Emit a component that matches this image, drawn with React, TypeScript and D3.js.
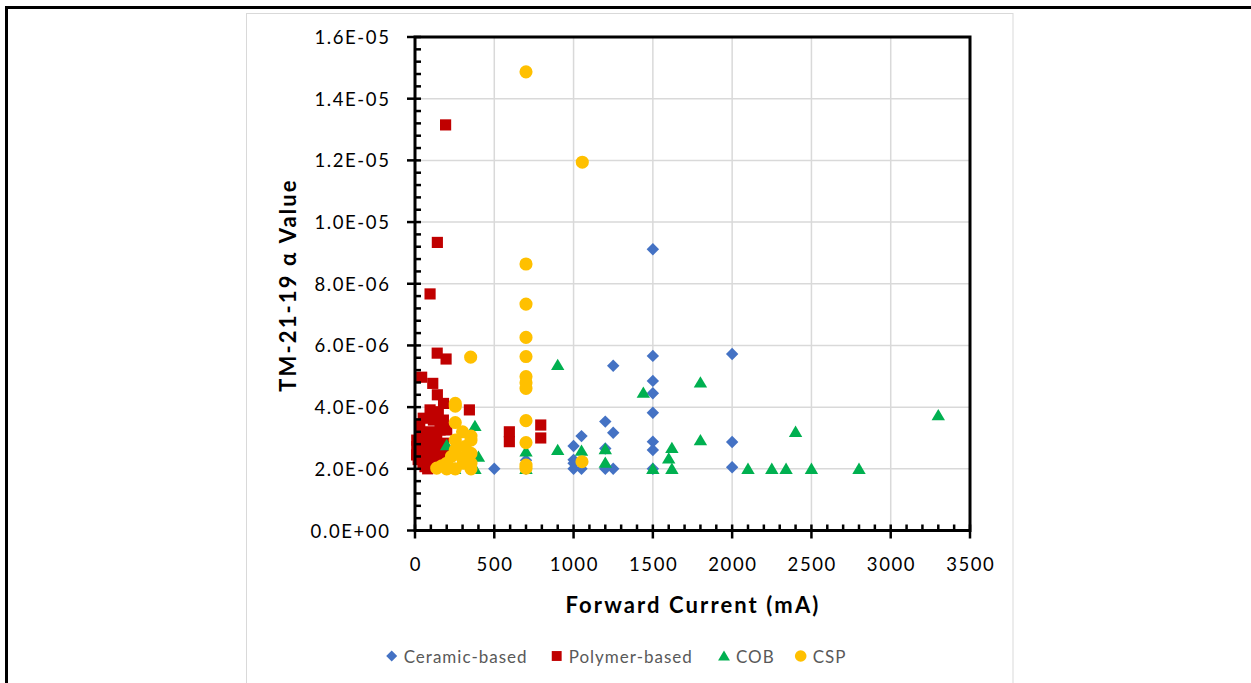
import React from "react";
import * as d3 from "d3";

const xTicks = [0, 500, 1000, 1500, 2000, 2500, 3000, 3500];
const yTicks = [0, 2e-6, 4e-6, 6e-6, 8e-6, 1e-5, 1.2e-5, 1.4e-5, 1.6e-5];
const yTickLabels = ["0.0E+00", "2.0E-06", "4.0E-06", "6.0E-06", "8.0E-06", "1.0E-05", "1.2E-05", "1.4E-05", "1.6E-05"];

const seriesNames = ["Ceramic-based", "Polymer-based", "COB", "CSP"];
const seriesColors = ["#4472C4", "#C00000", "#00B050", "#FFC000"];

const ceramicX = [1500, 1500, 2000, 1250, 1500, 1500, 1500, 1200, 1250, 1050, 1000, 1200, 1500, 1500, 2000, 2000, 1000, 1000, 1050, 1200, 1250, 1500, 500, 700, 700, 1000];
const ceramicY = [9.12, 5.66, 5.72, 5.34, 4.85, 4.45, 3.82, 3.53, 3.17, 3.06, 2.74, 2.66, 2.88, 2.61, 2.87, 2.05, 2.29, 2.0, 2.0, 2.0, 2.0, 2.0, 2.0, 2.28, 2.0, 2.18];

const polymerX = [193, 141, 95, 140, 196, 42, 112, 141, 180, 95, 343, 147, 52, 116, 179, 32, 95, 158, 11, 63, 137, 179, 32, 84, 63, 105, 595, 595, 793, 793, 11, 42, 95, 126, 189, 76, 200, 20, 50, 150, 120, 80, 30, 70, 160, 110, 10, 180];
const polymerY = [13.15, 9.34, 7.67, 5.75, 5.56, 4.97, 4.77, 4.4, 4.12, 3.91, 3.91, 3.85, 3.64, 3.58, 3.58, 3.15, 3.2, 3.26, 2.72, 2.83, 2.93, 2.83, 2.5, 2.45, 2.07, 2.07, 3.2, 2.88, 3.42, 3.0, 2.93, 2.61, 2.61, 2.34, 2.29, 2.93, 3.26, 2.3, 2.2, 2.5, 2.7, 2.0, 3.45, 2.25, 2.1, 3.0, 2.45, 2.6];

const cobX = [900, 1800, 1440, 2400, 1800, 900, 1050, 1200, 1200, 1620, 1600, 1500, 1620, 2100, 2250, 2340, 2500, 2800, 3300, 378, 200, 378, 378, 700, 700, 250, 400];
const cobY = [5.37, 4.8, 4.47, 3.2, 2.93, 2.61, 2.59, 2.64, 2.2, 2.68, 2.34, 2.0, 2.0, 2.0, 2.0, 2.0, 2.0, 2.0, 3.74, 3.39, 2.77, 2.45, 2.0, 2.56, 2.0, 2.0, 2.39];

const cspX = [700, 1055, 700, 700, 700, 700, 700, 700, 700, 700, 700, 700, 700, 351, 254, 254, 254, 300, 353, 353, 254, 254, 315, 353, 353, 353, 137, 200, 200, 254, 305, 1053, 300, 230, 170];
const cspY = [14.87, 11.94, 8.64, 7.34, 6.26, 5.64, 4.99, 4.79, 4.61, 3.56, 2.85, 2.12, 2.02, 5.62, 4.12, 4.03, 3.5, 3.2, 3.06, 2.93, 2.93, 2.61, 2.72, 2.5, 2.18, 2.0, 2.02, 2.18, 2.0, 2.0, 2.18, 2.23, 2.35, 2.4, 2.1];

const seriesXs = [ceramicX, polymerX, cobX, cspX];
const seriesYs = [ceramicY, polymerY, cobY, cspY];

const FONT = "Lato, 'Open Sans', sans-serif";

function markerPath(kind: number, s: number): string {
  if (kind === 0) return `M0,${-s}L${s},0L0,${s}L${-s},0Z`;
  if (kind === 1) return `M${-s * 0.9},${-s * 0.9}H${s * 0.9}V${s * 0.9}H${-s * 0.9}Z`;
  if (kind === 2) return `M0,${-s}L${s * 1.08},${s * 0.82}L${-s * 1.08},${s * 0.82}Z`;
  return d3.symbol().type(d3.symbolCircle).size(Math.PI * (s * 1.06) * (s * 1.06))() as string;
}

export default function App() {
  const left = 415, right = 970, top = 37, bottom = 530.5;
  const x = d3.scaleLinear().domain([0, 3500]).range([left, right]);
  const y = d3.scaleLinear().domain([0, 1.6e-5]).range([bottom, top]);
  const xMinor = d3.range(0, 3501, 100).filter((v) => v % 500 !== 0);
  const yMinor = d3.range(0, 81, 2).map((v) => v * 2e-7).filter((_, i) => i % 5 !== 0);
  const legendX = [391.7, 556.7, 724, 800.7];
  const legendY = 656;

  return (
    <svg width={1251} height={683} style={{ position: "absolute", left: 0, top: 0, background: "#fff" }}>
      <rect x={0} y={0} width={1251} height={683} fill="#fff" />
      <line x1={6} y1={7.5} x2={1251} y2={7.5} stroke="#000" strokeWidth={3} />
      <line x1={6.5} y1={6} x2={6.5} y2={683} stroke="#000" strokeWidth={3} />
      <rect x={246.5} y={13.5} width={766.5} height={700} fill="#fff" stroke="#d9d9d9" strokeWidth={1} />

      {xTicks.map((t) => (
        <line key={"gx" + t} x1={x(t)} x2={x(t)} y1={top} y2={bottom} stroke="#d9d9d9" strokeWidth={1.5} />
      ))}
      {yTicks.map((t) => (
        <line key={"gy" + t} x1={left} x2={right} y1={y(t)} y2={y(t)} stroke="#d9d9d9" strokeWidth={1.5} />
      ))}

      {seriesXs.map((xs, si) => (
        <g key={"s" + si} fill={seriesColors[si]}>
          {xs.map((xv, i) => (
            <path key={i} d={markerPath(si, 6.2)} transform={`translate(${x(xv)},${y(seriesYs[si][i] * 1e-6)})`} />
          ))}
        </g>
      ))}

      <rect x={left} y={top} width={right - left} height={bottom - top} fill="none" stroke="#000" strokeWidth={3} />
      {xMinor.map((t) => (
        <line key={"xm" + t} x1={x(t)} x2={x(t)} y1={bottom} y2={bottom - 6} stroke="#000" strokeWidth={2.5} />
      ))}
      {xTicks.map((t) => (
        <line key={"xM" + t} x1={x(t)} x2={x(t)} y1={bottom + 8} y2={bottom - 6} stroke="#000" strokeWidth={2.5} />
      ))}
      {yMinor.map((t, i) => (
        <line key={"ym" + i} x1={left} x2={left + 6} y1={y(t)} y2={y(t)} stroke="#000" strokeWidth={2.5} />
      ))}
      {yTicks.map((t) => (
        <line key={"yM" + t} x1={left - 8} x2={left + 6} y1={y(t)} y2={y(t)} stroke="#000" strokeWidth={2.5} />
      ))}

      {xTicks.map((t) => (
        <text key={"xl" + t} x={x(t) + 0.8} y={564} textAnchor="middle" dominantBaseline="central" fontFamily={FONT} fontSize={18.5} letterSpacing={1.6} fill="#000">
          {t}
        </text>
      ))}
      {yTicks.map((t, i) => (
        <text key={"yl" + t} x={390.5} y={y(t)} textAnchor="end" dominantBaseline="central" fontFamily={FONT} fontSize={18.5} letterSpacing={1.6} fill="#000">
          {yTickLabels[i]}
        </text>
      ))}

      <text x={693} y={604} textAnchor="middle" dominantBaseline="central" fontFamily={FONT} fontSize={22} letterSpacing={2.1} fontWeight="bold" fill="#000">
        Forward Current (mA)
      </text>
      <text transform="translate(287,285) rotate(-90)" textAnchor="middle" dominantBaseline="central" fontFamily={FONT} fontSize={22} letterSpacing={2.1} fontWeight="bold" fill="#000">
        TM-21-19 α Value
      </text>

      {seriesNames.map((n, i) => (
        <g key={"lg" + i}>
          <path d={markerPath(i, 5.5)} fill={seriesColors[i]} transform={`translate(${legendX[i]},${legendY})`} />
          <text x={legendX[i] + 12} y={legendY} dominantBaseline="central" fontFamily={FONT} fontSize={17} letterSpacing={1} fill="#595959">
            {n}
          </text>
        </g>
      ))}
    </svg>
  );
}
